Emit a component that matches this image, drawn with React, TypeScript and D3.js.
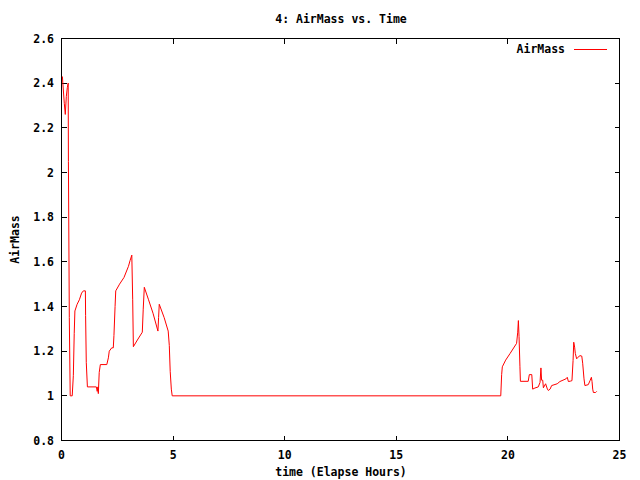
import { useEffect, useRef } from 'react'
import * as d3 from 'd3'

// elapsed hours (morning block, then the long flat stretch, then the evening block)
const hours = [
  0.04, 0.06, 0.125, 0.17, 0.215, 0.26, 0.3, 0.31, 0.35, 0.39,
  0.48, 0.53, 0.57, 0.6, 0.7, 0.8, 0.9, 0.98, 1.07, 1.08,
  1.11, 1.16, 1.56, 1.6, 1.63, 1.65, 1.69, 1.74, 2.03, 2.1,
  2.14, 2.25, 2.32, 2.35, 2.4, 2.43, 2.6, 2.8, 3.0, 3.07,
  3.15, 3.19, 3.22, 3.4, 3.62, 3.66, 3.71, 3.9, 4.1, 4.32,
  4.35, 4.38, 4.6, 4.78, 4.83, 4.87, 4.92, 4.96, 19.68,
  19.72, 19.75, 19.9, 20.1, 20.39, 20.44, 20.47, 20.5, 20.54, 20.56,
  20.91, 20.96, 21.07, 21.11, 21.21, 21.36, 21.44, 21.48, 21.51, 21.56,
  21.59, 21.69, 21.77, 21.81, 21.89, 21.96, 22.21, 22.33, 22.6, 22.66,
  22.71, 22.81, 22.87, 22.92, 22.95, 22.99, 23.02, 23.08, 23.11, 23.23,
  23.31, 23.35, 23.41, 23.45, 23.6, 23.68, 23.74, 23.77, 23.8, 23.83,
  23.93, 23.98,
]

const airMass = [
  2.43, 2.4, 2.31, 2.26, 2.34, 2.38, 2.4, 2.05, 1.35, 1.0,
  1.0, 1.09, 1.28, 1.38, 1.41, 1.43, 1.46, 1.47, 1.47, 1.36,
  1.15, 1.04, 1.04, 1.02, 1.04, 1.01, 1.105, 1.14, 1.14, 1.17,
  1.2, 1.215, 1.215, 1.27, 1.4, 1.47, 1.5, 1.53, 1.58, 1.605,
  1.63, 1.43, 1.22, 1.25, 1.285, 1.385, 1.486, 1.43, 1.37, 1.29,
  1.35, 1.41, 1.35, 1.29, 1.225, 1.11, 1.03, 1.0, 1.0,
  1.095, 1.13, 1.16, 1.19, 1.235, 1.285, 1.337, 1.265, 1.13, 1.065,
  1.065, 1.095, 1.095, 1.03, 1.035, 1.04, 1.06, 1.125, 1.07, 1.07,
  1.036, 1.054, 1.03, 1.024, 1.03, 1.046, 1.054, 1.064, 1.076, 1.083,
  1.064, 1.066, 1.068, 1.158, 1.24, 1.218, 1.19, 1.166, 1.17, 1.18,
  1.178, 1.146, 1.076, 1.046, 1.05, 1.068, 1.083, 1.064, 1.03, 1.015,
  1.015, 1.02,
]

const xTicks = [0, 5, 10, 15, 20, 25]
const yTicks = [0.8, 1, 1.2, 1.4, 1.6, 1.8, 2, 2.2, 2.4, 2.6]

const App = () => {
  const svgRef = useRef<SVGSVGElement | null>(null)

  useEffect(() => {
    if (!svgRef.current) return
    const width = 640
    const height = 480
    const left = 61.5
    const right = 619.5
    const top = 38.5
    const bottom = 440.5
    const font = '"DejaVu Sans Mono", monospace'

    const svg = d3.select(svgRef.current)
    svg.selectAll('*').remove()
    svg.attr('width', width).attr('height', height)

    svg.append('rect').attr('width', width).attr('height', height).attr('fill', 'white')

    const x = d3.scaleLinear().domain([0, 25]).range([left, right])
    const y = d3.scaleLinear().domain([0.8, 2.6]).range([bottom, top])

    // inward ticks, mirrored on all sides
    const tickLen = 5
    const ticks = svg.append('g').attr('stroke', 'black').attr('shape-rendering', 'crispEdges')
    xTicks.forEach((t) => {
      ticks.append('line').attr('x1', x(t)).attr('x2', x(t)).attr('y1', bottom).attr('y2', bottom - tickLen)
      ticks.append('line').attr('x1', x(t)).attr('x2', x(t)).attr('y1', top).attr('y2', top + tickLen)
    })
    yTicks.forEach((t) => {
      ticks.append('line').attr('x1', left).attr('x2', left + tickLen).attr('y1', y(t)).attr('y2', y(t))
      ticks.append('line').attr('x1', right).attr('x2', right - tickLen).attr('y1', y(t)).attr('y2', y(t))
    })

    // frame
    svg.append('rect')
      .attr('x', left).attr('y', top)
      .attr('width', right - left).attr('height', bottom - top)
      .attr('fill', 'none').attr('stroke', 'black')
      .attr('shape-rendering', 'crispEdges')

    const txt = (g: any) => g
      .style('font-family', font)
      .style('font-size', '11.5px')
      .style('font-weight', 'bold')
      .attr('fill', 'black')

    xTicks.forEach((t) => {
      svg.append('text').call(txt)
        .attr('x', x(t)).attr('y', 459)
        .attr('text-anchor', 'middle')
        .text(d3.format('d')(t))
    })
    yTicks.forEach((t) => {
      svg.append('text').call(txt)
        .attr('x', 54).attr('y', y(t) + 4)
        .attr('text-anchor', 'end')
        .text(t === 1 || t === 2 ? String(t) : t.toFixed(1))
    })

    svg.append('text').call(txt)
      .attr('x', 341).attr('y', 23)
      .attr('text-anchor', 'middle')
      .text('4: AirMass vs. Time')

    svg.append('text').call(txt)
      .attr('x', 341).attr('y', 476)
      .attr('text-anchor', 'middle')
      .text('time (Elapse Hours)')

    svg.append('text').call(txt)
      .attr('transform', `translate(19,${(top + bottom) / 2}) rotate(-90)`)
      .attr('text-anchor', 'middle')
      .text('AirMass')

    // legend
    svg.append('text').call(txt)
      .attr('x', 565).attr('y', 53)
      .attr('text-anchor', 'end')
      .text('AirMass')
    svg.append('line')
      .attr('x1', 574).attr('x2', 607).attr('y1', 49.5).attr('y2', 49.5)
      .attr('stroke', '#ff0000').attr('stroke-width', 1)

    const points: [number, number][] = hours.map((h, i) => [h, airMass[i]])
    const line = d3.line<[number, number]>()
      .x((d) => x(d[0]))
      .y((d) => y(d[1]))

    svg.append('path')
      .datum(points)
      .attr('d', line)
      .attr('fill', 'none')
      .attr('stroke', '#ff0000')
      .attr('stroke-width', 1)
  }, [])

  return (
    <div style={{ position: 'absolute', left: 0, top: 0 }}>
      <svg ref={svgRef} style={{ display: 'block' }}></svg>
    </div>
  )
}

export default App
